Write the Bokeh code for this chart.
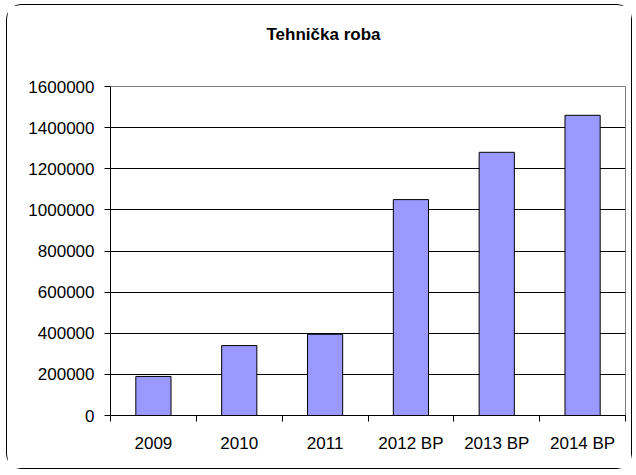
from bokeh.plotting import figure
from bokeh.models import (Range1d, FixedTicker, LinearAxis,
                          BasicTickFormatter, ColumnDataSource)
from bokeh.embed import file_html
from bokeh.resources import INLINE

title_text = "Tehnička roba"
categories = ["2009", "2010", "2011", "2012 BP", "2013 BP", "2014 BP"]
values = [190000, 340000, 395000, 1050000, 1280000, 1460000]
y_ticks = [0, 200000, 400000, 600000, 800000, 1000000, 1200000, 1400000, 1600000]

FONT = "Liberation Sans"

n = len(categories)
centers = [i + 0.5 for i in range(n)]
edges = list(range(n + 1))
source = ColumnDataSource(dict(x=centers, top=values, cat=categories))

p = figure(width=626, height=465, output_backend="svg", toolbar_location=None,
           x_range=Range1d(0, n), y_range=Range1d(0, 1600000),
           min_border_left=103, min_border_right=8, min_border_top=81,
           min_border_bottom=55, x_axis_location=None, y_axis_location=None)
p.margin = (4, 0, 0, 6)
p.styles = {"border": "1px solid #000000", "border-radius": "15px"}

# two trailing blank lines lift the title away from the plot area
p.title.text = title_text + "\n\n"
p.title.align = "left"
p.title.offset = 156
p.title.text_font = FONT
p.title.text_font_size = "17px"
p.title.text_font_style = "bold"
p.title.text_color = "black"
p.title.standoff = 10

p.background_fill_color = "white"
p.border_fill_color = "white"
p.outline_line_color = "#808080"
p.outline_line_width = 1

p.vbar(x="x", top="top", width=0.41, source=source, fill_color="#9999FF",
       line_color="#000000", line_width=1)

# Y axis
yaxis = LinearAxis(ticker=FixedTicker(ticks=y_ticks),
                   formatter=BasicTickFormatter(use_scientific=False))
yaxis.axis_line_color = "black"
yaxis.major_tick_line_color = "black"
yaxis.major_tick_out = 6
yaxis.major_tick_in = 0
yaxis.minor_tick_line_color = None
yaxis.major_label_text_font = FONT
yaxis.major_label_text_font_size = "17px"
yaxis.major_label_text_color = "black"
yaxis.major_label_standoff = 10
p.add_layout(yaxis, "left")

# X axis: labels at category centres, ticks (minor) at category boundaries
xaxis = LinearAxis(ticker=FixedTicker(ticks=centers, minor_ticks=edges))
xaxis.major_label_overrides = {c: lab for c, lab in zip(centers, categories)}
xaxis.axis_line_color = "black"
xaxis.major_tick_line_color = None
xaxis.major_tick_out = 0
xaxis.major_tick_in = 0
xaxis.minor_tick_line_color = "black"
xaxis.minor_tick_out = 6
xaxis.minor_tick_in = 0
xaxis.major_label_text_font = FONT
xaxis.major_label_text_font_size = "17px"
xaxis.major_label_text_color = "black"
xaxis.major_label_standoff = 12
p.add_layout(xaxis, "below")

p.xgrid.grid_line_color = None
p.ygrid.ticker = FixedTicker(ticks=y_ticks)
p.ygrid.grid_line_color = "black"
p.ygrid.grid_line_width = 1

open("out.html", "w").write(file_html(p, INLINE))
